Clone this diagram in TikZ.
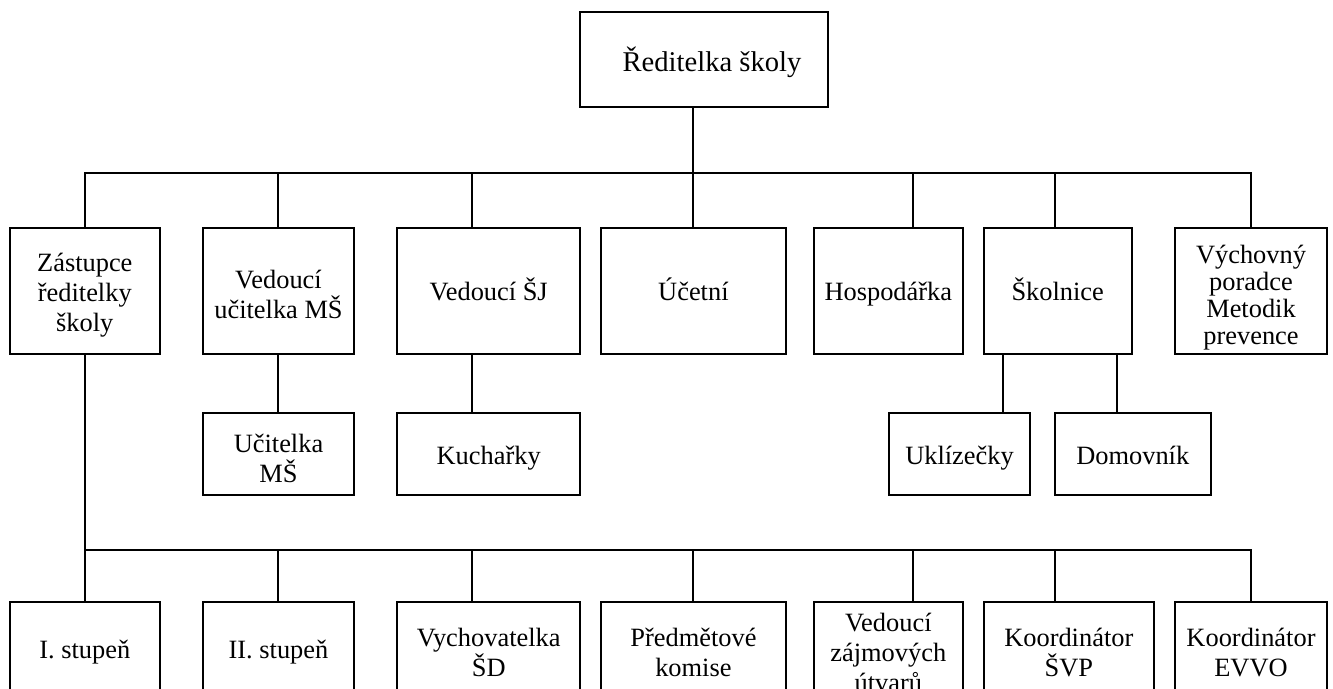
\documentclass[tikz,border=0pt]{standalone}
\usepackage{fontspec}
\setmainfont{Liberation Serif}
\usetikzlibrary{calc}

\newcommand{\topstrut}[1][13pt]{\rule{0pt}{#1}}

\tikzset{
  box/.style={draw, line width=1pt, align=center, inner sep=0pt,
    font=\fontsize{13.2}{15}\selectfont},
  single/.style={text height=12pt, text depth=2pt},
  wire/.style={line width=1pt, line cap=rect}
}

\begin{document}
\begin{tikzpicture}[x=0.5pt,y=-0.5pt]
	\useasboundingbox (0,0) rectangle (1333,689);
	% columns and buses
	\coordinate (c1) at (84.8,0);
	\coordinate (c2) at (277.7,0);
	\coordinate (c3) at (471.9,0);
	\coordinate (c4) at (693,0);
	\coordinate (c5) at (912.6,0);
	\coordinate (c6) at (1055,0);
	\coordinate (c7) at (1251,0);
	\coordinate (s1) at (1002.8,0);
	\coordinate (s2) at (1116.5,0);
	\coordinate (bus1) at (84.8,172.7);
	\coordinate (bus2) at (84.8,550);

	\node [box, minimum width=124pt, minimum height=47.5pt, text height=14pt, text depth=2pt, font=\fontsize{14.3}{16}\selectfont] (reditelka) at (704,59.2) {\hspace*{8pt}Ředitelka školy};

	% first row
	\node [box, minimum width=75pt, minimum height=63.3pt] (zast) at (84.8,291) {\topstrut Zástupce\\ředitelky\\školy};
	\node [box, minimum width=75.5pt, minimum height=63.3pt] (vedms) at (278.5,291) {\topstrut Vedoucí\\učitelka MŠ};
	\node [box, single, minimum width=91.7pt, minimum height=63.3pt] (vedsj) at (488.7,291) {Vedoucí ŠJ};
	\node [box, single, minimum width=92.5pt, minimum height=63.3pt] (ucet) at (693.4,291) {Účetní};
	\node [box, single, minimum width=74.5pt, minimum height=63.3pt] (hosp) at (888.3,291) {Hospodářka};
	\node [box, single, minimum width=74pt, minimum height=63.3pt] (skol) at (1057.7,291) {Školnice};
	\node [box, minimum width=76.2pt, minimum height=63.3pt, font=\fontsize{13.2}{13.6}\selectfont] (vych) at (1251,291) {\topstrut[16pt]Výchovný\\poradce\\Metodik\\prevence};

	% second row
	\node [box, minimum width=75.5pt, minimum height=40.8pt] (ucms) at (278.5,454.2) {\topstrut Učitelka\\MŠ};
	\node [box, single, minimum width=91.7pt, minimum height=40.8pt] (kuch) at (488.7,454.2) {Kuchařky};
	\node [box, single, minimum width=70.7pt, minimum height=40.8pt] (uklid) at (959.5,454.2) {Uklízečky};
	\node [box, single, minimum width=78.2pt, minimum height=40.8pt] (domov) at (1132.8,454.2) {Domovník};

	% third row
	\node [box, single, minimum width=75pt, minimum height=46pt] (stup1) at (84.8,648.3) {I. stupeň};
	\node [box, single, minimum width=75.5pt, minimum height=46pt] (stup2) at (278.5,648.3) {II. stupeň};
	\node [box, minimum width=91.7pt, minimum height=46pt] (vychov) at (488.7,648.3) {\topstrut Vychovatelka\\ŠD};
	\node [box, minimum width=92.5pt, minimum height=46pt] (predm) at (693.4,648.3) {\topstrut Předmětové\\komise};
	\node [box, minimum width=74.5pt, minimum height=46pt] (zajm) at (888.3,648.3) {\topstrut Vedoucí\\zájmových\\útvarů};
	\node [box, minimum width=85.2pt, minimum height=46pt] (svp) at (1068.8,648.3) {\topstrut Koordinátor\\ŠVP};
	\node [box, minimum width=76.2pt, minimum height=46pt] (evvo) at (1251,648.3) {\topstrut Koordinátor\\EVVO};

	% connectors
	\draw [wire] (reditelka.south -| c4) -- (ucet.north -| c4);
	\draw [wire] (bus1 -| c1) -- (bus1 -| c7);
	\foreach \n/\c in {zast/c1,vedms/c2,vedsj/c3,hosp/c5,skol/c6,vych/c7}
		\draw [wire] (bus1 -| \c) -- (\n.north -| \c);
	\draw [wire] (zast.south) -- (stup1.north);
	\draw [wire] (bus2 -| c1) -- (bus2 -| c7);
	\foreach \n/\c in {stup2/c2,vychov/c3,predm/c4,zajm/c5,svp/c6,evvo/c7}
		\draw [wire] (bus2 -| \c) -- (\n.north -| \c);
	\draw [wire] (vedms.south -| c2) -- (ucms.north -| c2);
	\draw [wire] (vedsj.south -| c3) -- (kuch.north -| c3);
	\draw [wire] (skol.south -| s1) -- (uklid.north -| s1);
	\draw [wire] (skol.south -| s2) -- (domov.north -| s2);
\end{tikzpicture}
\end{document}
